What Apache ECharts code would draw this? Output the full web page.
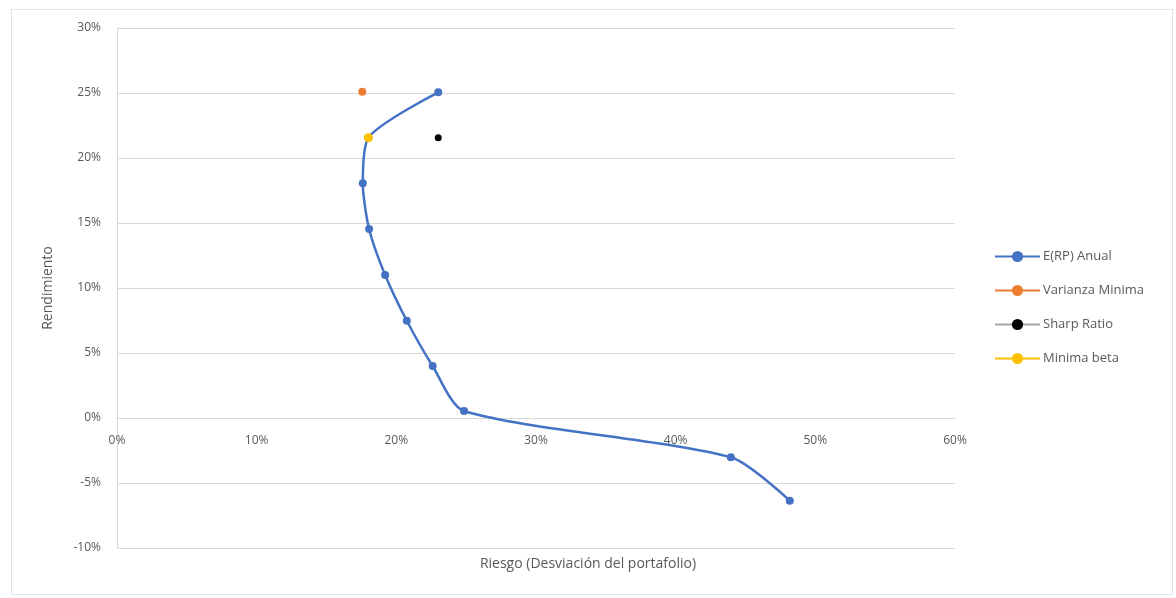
<!DOCTYPE html>
<html>
<head>
<meta charset="utf-8">
<script src="https://cdn.jsdelivr.net/npm/echarts@6/dist/echarts.min.js"></script>
<style>html,body{margin:0;padding:0;background:#fff;}#c{width:1176px;height:598px;}</style>
</head>
<body>
<div id="c"></div>
<script>
// Data (x = riesgo, y = rendimiento), as fractions
const anualRiesgo = [0.230, 0.180, 0.176, 0.1805, 0.192, 0.2075, 0.226, 0.2485, 0.4395, 0.4817];
const anualRend   = [0.2505, 0.2156, 0.1805, 0.1454, 0.110, 0.0748, 0.040, 0.0054, -0.0302, -0.0636];
const varMinRiesgo = [0.1756];
const varMinRend   = [0.251];
const sharpRiesgo  = [0.230];
const sharpRend    = [0.2156];
const betaRiesgo   = [0.180];
const betaRend     = [0.2156];
const seriesNames = ['E(RP) Anual', 'Varianza Minima', 'Sharp Ratio', 'Minima beta'];

const zip = (a, b) => a.map((v, i) => [v, b[i]]);
const pct = v => Math.round(v * 100) + '%';
const font = '"Open Sans", "Liberation Sans", sans-serif';
const txt = '#595959';

const chart = echarts.init(document.getElementById('c'));
chart.setOption({
  animation: false,
  backgroundColor: '#fff',
  graphic: [
    { type: 'rect', left: 9, top: 7, shape: { width: 1161, height: 585 }, style: { fill: 'none', stroke: '#e3e3e3', lineWidth: 1 } },
    { type: 'text', left: 'center', top: 557, style: { text: 'Riesgo (Desviación del portafolio)', font: '14px ' + font, fill: txt }, x: -52 }
  ],
  grid: { left: 117, right: 221, top: 28, bottom: 50 },
  legend: {
    orient: 'vertical', left: 989, top: 245, itemGap: 21, itemWidth: 45, itemHeight: 14,
    textStyle: { color: txt, fontFamily: font, fontSize: 13, padding: [0, 0, 0, -2] },
    data: seriesNames
  },
  xAxis: {
    type: 'value', min: 0, max: 0.6, interval: 0.1,
    offset: -130,
    axisLine: { show: true, onZero: false, lineStyle: { color: '#d9d9d9' } },
    axisTick: { show: false },
    splitLine: { show: false },
    axisLabel: { formatter: pct, color: txt, fontFamily: font, fontSize: 12, margin: 17 }
  },
  yAxis: {
    type: 'value', min: -0.1, max: 0.3, interval: 0.05,
    name: 'Rendimiento', nameLocation: 'middle', nameGap: 62,
    nameTextStyle: { color: txt, fontFamily: font, fontSize: 14 },
    axisLine: { show: true, lineStyle: { color: '#d9d9d9' } },
    axisTick: { show: false },
    splitLine: { show: true, lineStyle: { color: '#d9d9d9' } },
    axisLabel: { formatter: pct, color: txt, fontFamily: font, fontSize: 12, margin: 16 }
  },
  series: [
    { name: seriesNames[0], type: 'line', smooth: 0.25, data: zip(anualRiesgo, anualRend),
      symbol: 'circle', symbolSize: 8, lineStyle: { color: '#4472C4', width: 2.5 }, itemStyle: { color: '#4472C4' }, z: 2 },
    { name: seriesNames[1], type: 'line', data: zip(varMinRiesgo, varMinRend),
      symbol: 'circle', symbolSize: 8, lineStyle: { color: '#ED7D31', width: 2.5 }, itemStyle: { color: '#ED7D31' }, z: 3 },
    { name: seriesNames[2], type: 'line', data: zip(sharpRiesgo, sharpRend),
      symbol: 'circle', symbolSize: 7, lineStyle: { color: '#a5a5a5', width: 2.5 }, itemStyle: { color: '#000' }, z: 3 },
    { name: seriesNames[3], type: 'line', data: zip(betaRiesgo, betaRend),
      symbol: 'circle', symbolSize: 9, lineStyle: { color: '#FFC000', width: 2.5 }, itemStyle: { color: '#FFC000' }, z: 4 }
  ]
});
</script>
</body>
</html>
